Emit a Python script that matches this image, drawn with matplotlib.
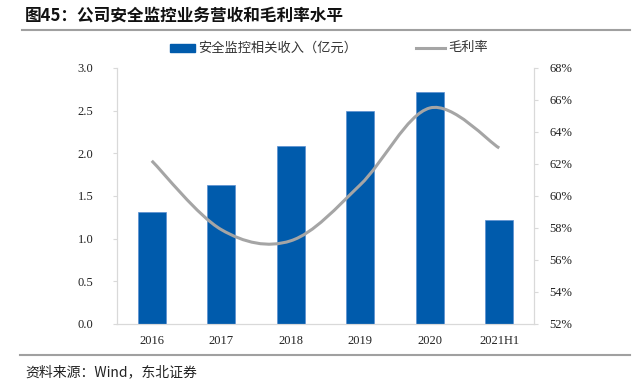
import matplotlib
matplotlib.use("Agg")
from matplotlib import pyplot as plt
from matplotlib.path import Path
from matplotlib.patches import PathPatch, Rectangle
from matplotlib.lines import Line2D
from matplotlib.ticker import FuncFormatter

years = ["2016", "2017", "2018", "2019", "2020", "2021H1"]
revenue = [1.31, 1.63, 2.09, 2.50, 2.72, 1.22]
margin = [62.2, 57.9, 57.2, 60.7, 65.5, 63.0]

cjk = ["Noto Sans CJK SC", "DejaVu Sans"]
num = ["Liberation Serif", "DejaVu Serif"]
W, H = 637, 387

fig = plt.figure(figsize=(6.37, 3.87), dpi=100)
ax = fig.add_axes([117 / W, 1 - 324 / H, (534 - 117) / W, (324 - 68) / H])
ax2 = ax.twinx()

x = list(range(len(years)))
ax.bar(x, revenue, width=0.4, color="#005BAC", edgecolor="#5B8FD0", linewidth=0.5, zorder=2)
ax.set_xlim(-0.5, 5.5)
ax.set_ylim(0, 3.0)
ax.set_yticks([0, 0.5, 1.0, 1.5, 2.0, 2.5, 3.0])
ax.yaxis.set_major_formatter(FuncFormatter(lambda v, p: f"{v:.1f}"))
ax.set_xticks(x)
ax.set_xticklabels(years)

# smoothed margin line (cubic bezier through the points, like Excel's smoothing)
verts = [(x[0], margin[0])]
codes = [Path.MOVETO]
n = len(x)
for i in range(n - 1):
    p0 = (x[max(i - 1, 0)], margin[max(i - 1, 0)])
    p1 = (x[i], margin[i])
    p2 = (x[i + 1], margin[i + 1])
    p3 = (x[min(i + 2, n - 1)], margin[min(i + 2, n - 1)])
    c1 = (p1[0] + (p2[0] - p0[0]) / 6, p1[1] + (p2[1] - p0[1]) / 6)
    c2 = (p2[0] - (p3[0] - p1[0]) / 6, p2[1] - (p3[1] - p1[1]) / 6)
    verts += [c1, c2, p2]
    codes += [Path.CURVE4] * 3
ax2.add_patch(PathPatch(Path(verts, codes), facecolor="none", edgecolor="#A5A5A5", linewidth=2.2, zorder=3))
ax2.set_ylim(52, 68)
ax2.set_yticks(range(52, 69, 2))
ax2.yaxis.set_major_formatter(FuncFormatter(lambda v, p: f"{v:.0f}%"))

for a in (ax, ax2):
    a.spines["top"].set_visible(False)
    for s in ("left", "right", "bottom"):
        a.spines[s].set_color("#D9D9D9")
    a.tick_params(colors="#D9D9D9", labelcolor="#222222", labelsize=9, length=3, width=0.8)
    for lab in a.get_xticklabels() + a.get_yticklabels():
        lab.set_family(num)
ax.tick_params(axis="x", length=0, pad=8)
ax.tick_params(axis="y", pad=14)
ax2.tick_params(axis="y", pad=8)

# legend drawn by hand to match spacing
ly = 1 - 48 / H
fig.add_artist(Rectangle((170 / W, 1 - 52 / H), 25 / W, 8 / H, color="#005BAC", transform=fig.transFigure))
fig.text(198 / W, ly, "安全监控相关收入（亿元）", family=cjk, fontsize=9.5, va="center", ha="left", color="#333333")
fig.add_artist(Line2D([416 / W, 445 / W], [ly, ly], color="#A5A5A5", lw=2.2))
fig.text(448 / W, ly, "毛利率", family=cjk, fontsize=9.5, va="center", ha="left", color="#333333")

fig.text(25 / W, 1 - 15 / H, "图45：公司安全监控业务营收和毛利率水平", family=cjk,
         fontsize=12, fontweight="bold", va="center", ha="left", color="#111111")
fig.add_artist(Line2D([22 / W, 630 / W], [1 - 30 / H, 1 - 30 / H], color="#A0A0A0", lw=1.5))
fig.add_artist(Line2D([20 / W, 630 / W], [1 - 355 / H, 1 - 355 / H], color="#A0A0A0", lw=1.5))
fig.text(25 / W, 1 - 372 / H, "资料来源：Wind，东北证券", family=cjk,
         fontsize=10, va="center", ha="left", color="#222222")

fig.savefig("out.png", dpi=100)
